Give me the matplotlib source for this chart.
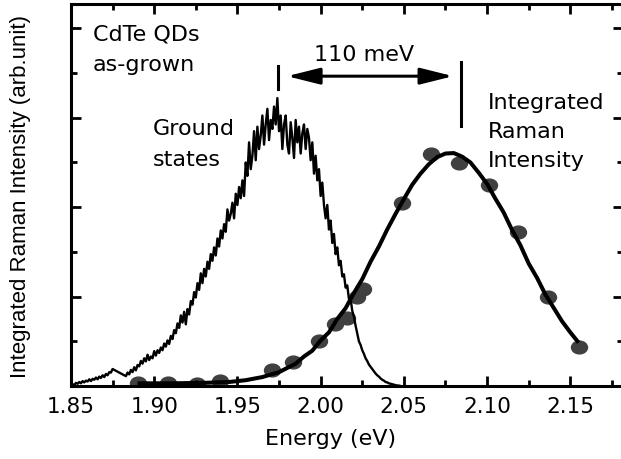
import numpy as np
import matplotlib
matplotlib.use("Agg")
import matplotlib.pyplot as plt
from matplotlib.path import Path
from matplotlib.transforms import Affine2D
from matplotlib.ticker import MultipleLocator

# PL spectrum of the ground states (two scans with a small gap)
pl_lo_start, pl_hi_start, pl_step = 1.850, 1.883, 0.001
pl_lo = [0.00, 0.04, 0.02, 0.07, 0.05, 0.09, 0.06, 0.11, 0.08, 0.12,
         0.10, 0.15, 0.11, 0.16, 0.14, 0.19, 0.15, 0.21, 0.18, 0.24,
         0.20, 0.27, 0.24, 0.31, 0.30, 0.38]
pl_hi = [0.22, 0.30, 0.26, 0.36, 0.31, 0.42, 0.35, 0.47, 0.44, 0.56,
         0.50, 0.62, 0.55, 0.70, 0.58, 0.66, 0.62, 0.78, 0.68, 0.80,
         0.74, 0.86, 0.80, 0.95, 0.88, 1.02, 0.94, 1.12, 1.05, 1.25,
         1.18, 1.40, 1.30, 1.58, 1.42, 1.66, 1.38, 1.72, 1.60, 1.90,
         1.82, 2.10, 1.98, 2.30, 2.15, 2.52, 2.30, 2.62, 2.45, 2.78,
         2.62, 2.95, 2.80, 3.10, 2.92, 3.30, 3.12, 3.48, 3.30, 3.62,
         3.45, 3.95, 3.70, 3.85, 4.10, 3.75, 4.30, 4.05, 4.45, 4.20,
         4.60, 4.25, 5.00, 4.70, 5.45, 4.85, 5.15, 5.70, 5.05, 5.80,
         5.30, 5.60, 6.05, 5.40, 5.85, 6.20, 5.50, 5.95, 5.75, 6.25,
         5.85, 6.44, 5.70, 6.05, 5.30, 5.85, 6.05, 5.40, 5.20, 5.90,
         5.55, 5.10, 5.95, 5.45, 5.80, 5.20, 5.65, 5.85, 5.30, 5.75,
         5.55, 5.05, 5.45, 4.75, 5.15, 4.60, 4.85, 4.25, 4.55, 4.05,
         3.75, 4.05, 3.50, 3.70, 3.20, 3.40, 2.95, 3.10, 2.70, 2.80,
         2.45, 2.50, 2.20, 2.25, 1.95, 1.95, 1.68, 1.55, 1.35, 1.18,
         1.00, 0.92, 0.80, 0.72, 0.62, 0.56, 0.48, 0.43, 0.38, 0.33,
         0.28, 0.24, 0.21, 0.17, 0.14, 0.12, 0.09, 0.08, 0.06, 0.05,
         0.04, 0.03, 0.02, 0.01, 0.01, 0.00]

# integrated Raman intensity
raman_energy = [1.8903, 1.9083, 1.9257, 1.9395, 1.9708, 1.9834, 1.9990,
                2.0087, 2.0159, 2.0219, 2.0255, 2.0489, 2.0663, 2.0832,
                2.1012, 2.1186, 2.1367, 2.1553]
raman_int = [0.07, 0.07, 0.04, 0.11, 0.36, 0.53, 1.00, 1.38, 1.53, 2.00,
             2.18, 4.09, 5.18, 4.98, 4.49, 3.44, 1.98, 0.87]

# fitted curve through the Raman points
fit_energy = [1.890, 1.910, 1.930, 1.945, 1.955, 1.965, 1.975, 1.985,
              1.990, 1.995, 2.000, 2.005, 2.010, 2.015, 2.020, 2.025,
              2.030, 2.035, 2.040, 2.045, 2.050, 2.055, 2.060, 2.065,
              2.070, 2.075, 2.080, 2.085, 2.090, 2.095, 2.100, 2.105,
              2.110, 2.115, 2.120, 2.125, 2.130, 2.135, 2.140, 2.145,
              2.150, 2.155]
fit_int = [0.06, 0.06, 0.07, 0.09, 0.13, 0.20, 0.31, 0.50,
           0.66, 0.79, 1.02, 1.20, 1.50, 1.74, 2.08, 2.39,
           2.78, 3.12, 3.50, 3.85, 4.18, 4.50, 4.75, 4.96,
           5.12, 5.20, 5.21, 5.13, 5.00, 4.77, 4.52, 4.19,
           3.88, 3.49, 3.15, 2.74, 2.42, 2.05, 1.75, 1.45,
           1.20, 0.97]

xticks = [1.85, 1.90, 1.95, 2.00, 2.05, 2.10, 2.15]

pl_lo_e = pl_lo_start + pl_step * np.arange(len(pl_lo))
pl_hi_e = pl_hi_start + pl_step * np.arange(len(pl_hi))
pl_e = np.concatenate([pl_lo_e, pl_hi_e])
pl_i = np.concatenate([pl_lo, pl_hi])

fig = plt.figure(figsize=(6.21, 4.60), dpi=100)
ax = fig.add_axes([0.1143, 0.1587, 0.889, 0.830])

dot = Path.unit_circle().transformed(Affine2D().scale(1.0, 0.8))
ax.plot(raman_energy, raman_int, linestyle="none", marker=dot,
        markersize=11.5, color="#404040", zorder=1)
ax.plot(fit_energy, fit_int, color="k", lw=2.9, zorder=3,
        solid_capstyle="butt")
ax.plot(pl_e, pl_i, color="k", lw=1.7, zorder=2)

ax.set_xlim(1.85, 2.1817)
ax.set_ylim(0, 8.54)
ax.set_xticks(xticks)
ax.set_xticklabels([f"{t:.2f}" for t in xticks])
ax.xaxis.set_minor_locator(MultipleLocator(0.025))
ax.yaxis.set_major_locator(MultipleLocator(2))
ax.yaxis.set_minor_locator(MultipleLocator(1))
ax.tick_params(which="both", direction="in", top=True, right=True,
               width=2, labelleft=False, labelsize=15.5, pad=7)
ax.tick_params(which="major", length=7)
ax.tick_params(which="minor", length=4)
for s in ax.spines.values():
    s.set_linewidth(2.2)

ax.set_xlabel("Energy (eV)", fontsize=16)
ax.xaxis.set_label_coords(0.47, -0.11)
ax.set_ylabel("Integrated Raman Intensity (arb.unit)",
              fontsize=16, family="Liberation Sans")
ax.yaxis.set_label_coords(-0.072, 0.5)

# annotations
ax.text(1.8632, 7.54, "CdTe QDs\nas-grown", fontsize=16, va="center",
        ha="left", linespacing=1.62)
ax.text(1.8993, 5.43, "Ground\nstates", fontsize=16, va="center",
        ha="left", linespacing=1.7)
ax.text(2.1006, 5.71, "Integrated\nRaman\nIntensity", fontsize=16,
        va="center", ha="left", linespacing=1.55)
ax.text(2.0263, 7.42, "110 meV", fontsize=16, va="center", ha="center")
ax.plot([1.9744, 1.9744], [6.64, 7.16], color="k", lw=2.2)
ax.plot([2.0844, 2.0844], [5.82, 7.24], color="k", lw=2.2)
ax.annotate("", xy=(2.0796, 6.93), xytext=(1.9798, 6.93),
            arrowprops=dict(arrowstyle="<|-|>,head_length=1.0,head_width=0.25",
                            mutation_scale=20, lw=2.2, color="k",
                            shrinkA=0, shrinkB=0))

fig.savefig("out.png", dpi=100)
